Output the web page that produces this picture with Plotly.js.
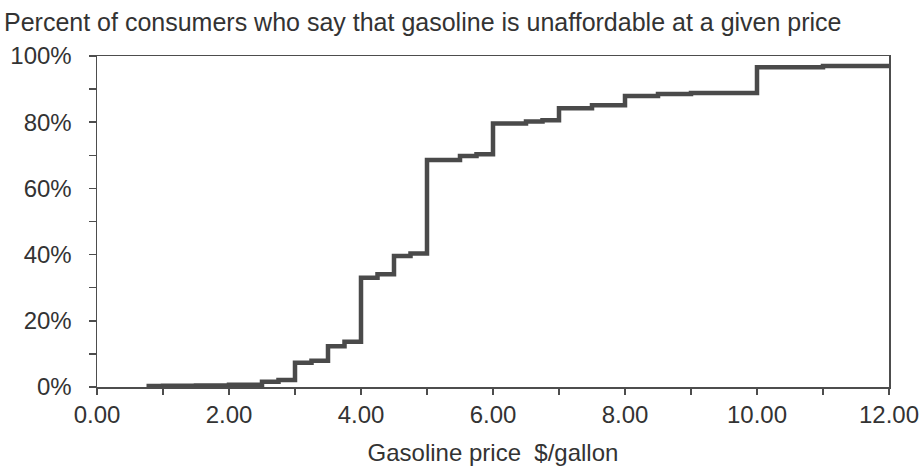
<!DOCTYPE html>
<html>
<head>
<meta charset="utf-8">
<script src="https://cdn.plot.ly/plotly-3.0.1.min.js"></script>
<style>html,body{margin:0;padding:0;background:#fff;}#chart{width:923px;height:466px;}</style>
</head>
<body>
<div id="chart"></div>
<script>
// Gasoline price ($/gallon) at which each step of the cumulative curve occurs
const price = [0.75, 1.0, 1.5, 2.0, 2.5, 2.75, 3.0, 3.25, 3.5, 3.75, 4.0, 4.25, 4.5, 4.75, 5.0, 5.5, 5.75, 6.0, 6.5, 6.75, 7.0, 7.5, 8.0, 8.5, 9.0, 10.0, 11.0, 12.0];
// Percent of consumers who say gasoline is unaffordable at that price
const pctUnaffordable = [0.3, 0.35, 0.45, 0.7, 1.6, 2.1, 7.3, 7.9, 12.3, 13.7, 33.0, 34.1, 39.6, 40.3, 68.6, 69.8, 70.3, 79.6, 80.2, 80.6, 84.2, 85.1, 87.9, 88.5, 88.8, 96.6, 97.0, 97.0];

const titleText = 'Percent of consumers who say that gasoline is unaffordable at a given price';
const xTitle = 'Gasoline price  $/gallon';

const font = 'Liberation Sans, Arial, sans-serif';
const txt = '#333333';
const axisCol = '#4d4d4d';

const trace = {
  x: price,
  y: pctUnaffordable,
  type: 'scatter',
  mode: 'lines',
  line: {shape: 'hv', color: '#4a4a4a', width: 4.5},
  hoverinfo: 'x+y'
};

const layout = {
  width: 923, height: 466,
  margin: {l: 97, r: 34, t: 56, b: 79, pad: 0},
  paper_bgcolor: '#ffffff', plot_bgcolor: '#ffffff',
  showlegend: false,
  font: {family: font, color: txt, size: 24},
  title: {text: titleText, font: {family: font, size: 25, color: txt}, xref: 'container', yref: 'container', x: 4/923, xanchor: 'left', y: 1 - 22/466, yanchor: 'middle'},
  xaxis: {
    range: [0, 12], dtick: 2, tick0: 0, tickformat: '.2f',
    showgrid: false, zeroline: false,
    showline: true, linecolor: axisCol, linewidth: 1.5, mirror: true,
    ticks: 'outside', ticklen: 6, tickwidth: 1.5, tickcolor: axisCol,
    minor: {dtick: 1, ticks: 'outside', ticklen: 6, tickwidth: 1.5, tickcolor: axisCol, showgrid: false},
    tickfont: {size: 24, color: txt},
    title: {text: xTitle, font: {size: 24, color: txt}, standoff: 18}
  },
  yaxis: {
    range: [0, 100], dtick: 20, tick0: 0, ticksuffix: '%',
    showgrid: false, zeroline: false,
    showline: true, linecolor: axisCol, linewidth: 1.5, mirror: true,
    ticks: 'outside', ticklen: 7, tickwidth: 1.5, tickcolor: axisCol,
    minor: {dtick: 10, ticks: 'outside', ticklen: 7, tickwidth: 1.5, tickcolor: axisCol, showgrid: false},
    tickfont: {size: 24, color: txt},
    ticklabelstandoff: 12
  }
};

Plotly.newPlot('chart', [trace], layout, {displayModeBar: false, staticPlot: true});
</script>
</body>
</html>
